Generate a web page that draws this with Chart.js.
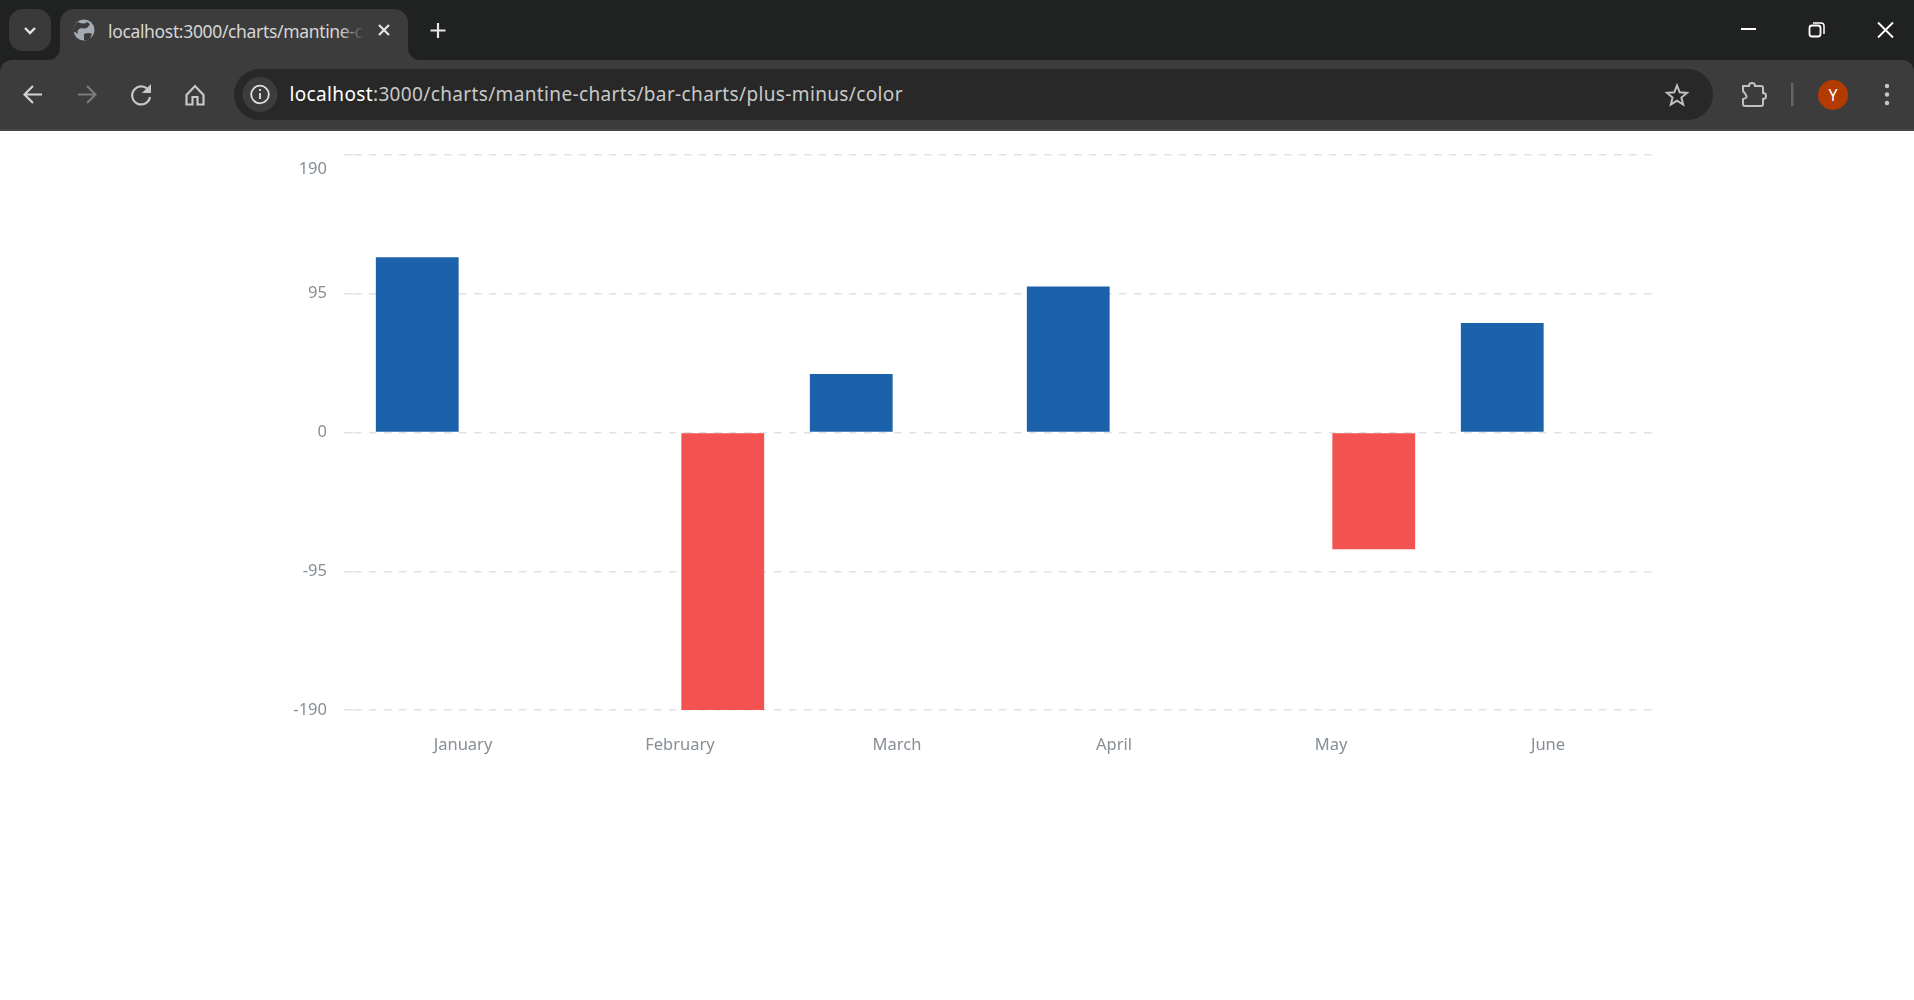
<!DOCTYPE html>
<html>
<head>
<meta charset="utf-8">
<title>plus-minus color</title>
<script src="https://cdn.jsdelivr.net/npm/chart.js@4"></script>
<style>
  html, body { margin: 0; padding: 0; background: #fff; overflow: hidden; }
  #browser { position: absolute; left: 0; top: 0; display: block; }
  #browser text { font-family: "Noto Sans", sans-serif; }
  #chart { position: absolute; left: 0; top: 131px; }
</style>
</head>
<body>
<!-- browser window chrome from the screenshot -->
<svg id="browser" width="1914" height="131" viewBox="0 0 1914 131" xmlns="http://www.w3.org/2000/svg">
  <defs>
    <linearGradient id="tabFade"><stop offset="0" stop-color="#3c3c3c" stop-opacity="0"/><stop offset="1" stop-color="#3c3c3c"/></linearGradient>
  </defs>
  <rect width="1914" height="131" fill="#202221"/>
  <path d="M0 131V72a12 12 0 0 1 12-12H1902a12 12 0 0 1 12 12V131Z" fill="#3c3c3c"/>
  <rect y="129" width="1914" height="2" fill="#474747"/>
  <rect x="9" y="9" width="42" height="42" rx="14" fill="#3a3a3a"/>
  <path d="M25 28l5 5 5-5" fill="none" stroke="#e3e3e3" stroke-width="2.4"/>
  <path d="M48 60a12 12 0 0 0 12-12V23a14 14 0 0 1 14-14H394a14 14 0 0 1 14 14V48a12 12 0 0 0 12 12Z" fill="#3c3c3c"/>
  <circle cx="84" cy="30" r="10.5" fill="#a5abb2"/>
  <path d="M78 22q6 3 9 0l3 2q-3 6-8 4q-6 1-4 6l-5-3Q74 24 78 22ZM84 34q5-2 8 0l-2 5q-4 2-6 1Z" fill="#3c3c3c"/>
  <text x="108" y="38" font-size="17.5" fill="#d6d6d6" textLength="255" lengthAdjust="spacing">localhost:3000/charts/mantine-c</text>
  <rect x="340" y="15" width="24" height="30" fill="url(#tabFade)"/>
  <path d="M379 25l10 10M389 25l-10 10" stroke="#e6e6e6" stroke-width="2.2"/>
  <path d="M438 23v15M430.5 30.5h15" stroke="#e6e6e6" stroke-width="2.2"/>
  <path d="M1741 29h15" stroke="#fff" stroke-width="2"/>
  <rect x="1809.5" y="25.5" width="11" height="11" rx="2.5" fill="none" stroke="#fff" stroke-width="1.8"/>
  <path d="M1813 23h8a3 3 0 0 1 3 3v8" fill="none" stroke="#fff" stroke-width="1.5"/>
  <path d="M1878 22.5l15 15M1893 22.5l-15 15" stroke="#fff" stroke-width="1.8"/>
  <path d="M42 94.5H25M33 86l-8.5 8.5L33 103" fill="none" stroke="#d2d2d2" stroke-width="2.2"/>
  <path d="M78 94.5H95M87 86l8.500 8.500L87 103" fill="none" stroke="#7a7a7a" stroke-width="2.2"/>
  <path d="M149 91a9 9 0 1 0 1 6" fill="none" stroke="#c8c8c8" stroke-width="2.2"/>
  <path d="M151 84v9h-9Z" fill="#c8c8c8"/>
  <path d="M186.5 95L195 86l8.5 9v9.5h-6V97h-5v7.500h-6Z" fill="none" stroke="#c8c8c8" stroke-width="2.2"/>
  <rect x="234" y="69" width="1479" height="51" rx="25.5" fill="#282828"/>
  <circle cx="260" cy="94.5" r="17.5" fill="#3c3c3c"/>
  <circle cx="260" cy="94.5" r="8.8" fill="none" stroke="#e0e0e0" stroke-width="1.8"/>
  <path d="M260 93v6M260 89v2" stroke="#e0e0e0" stroke-width="1.8"/>
  <text x="289.5" y="101" font-size="19" fill="#c8c8c8" textLength="613" lengthAdjust="spacing"><tspan fill="#ffffff">localhost</tspan>:3000/charts/mantine-charts/bar-charts/plus-minus/color</text>
  <path d="M1677 85.500l2.700 6.800 7.300 .6-5.600 4.600 1.800 7.100-6.200-3.900-6.200 3.900 1.800-7.100-5.600-4.600 7.300-.6Z" fill="none" stroke="#c0c0c0" stroke-width="2"/>
  <path d="M1743 86h6a3 3 0 0 1 6 0h6q2 0 2 2v5a3 3 0 0 1 0 6v5q0 2-2 2h-16q-2 0-2-2v-5q5-1 3-4t-3-4v-3q0-2 0-2Z" fill="none" stroke="#c0c0c0" stroke-width="2"/>
  <rect x="1791" y="83" width="2.4" height="23" fill="#666"/>
  <circle cx="1833" cy="95" r="15" fill="#b33a00"/>
  <text x="1833" y="101" font-size="16" fill="#fff" text-anchor="middle">Y</text>
  <circle cx="1887" cy="86" r="2.2" fill="#c8c8c8"/>
  <circle cx="1887" cy="94.5" r="2.2" fill="#c8c8c8"/>
  <circle cx="1887" cy="103" r="2.2" fill="#c8c8c8"/>
</svg>
<canvas id="chart" width="1914" height="869"></canvas>
<script>
// Chart data
const months = ["January", "February", "March", "April", "May", "June"];
const plusValues = [120, null, 40, 100, null, 75];
const minusValues = [null, -190, null, null, -80, null];
const yTicks = [-190, -95, 0, 95, 190];

const labelFont = '"Noto Sans", sans-serif';
const labelColor = "#868e96";
const gridColor = "#dee2e6";

new Chart(document.getElementById("chart"), {
  type: "bar",
  data: {
    labels: months,
    datasets: [
      { data: plusValues, backgroundColor: "#1c62aa" },
      { data: minusValues, backgroundColor: "#f25250" },
    ],
  },
  options: {
    responsive: false,
    animation: false,
    categoryPercentage: 0.8157,
    barPercentage: 0.9356,
    layout: { padding: { top: 24, right: 259, bottom: 0, left: 0 } },
    plugins: { legend: { display: false }, tooltip: { enabled: false } },
    scales: {
      x: {
        grid: { display: false },
        border: { display: false },
        afterFit: (scale) => { scale.height = 290; },
        ticks: {
          color: labelColor,
          font: { family: labelFont, size: 16.5 },
          padding: 17,
          labelOffset: 1.5,
          autoSkip: false,
          maxRotation: 0,
        },
      },
      y: {
        min: -190,
        max: 190,
        afterFit: (scale) => {
          scale.width = 353;
          // no extra room for the label overhang
          scale.paddingTop = 0;
          scale.paddingBottom = 0;
        },
        afterBuildTicks: (scale) => { scale.ticks = yTicks.map((value) => ({ value })); },
        border: { display: false, dash: [7.5, 7.5], dashOffset: -1 },
        grid: {
          color: gridColor,
          lineWidth: 1.5,
          tickColor: gridColor,
          tickWidth: 1.5,
          tickLength: 9,
        },
        ticks: {
          color: labelColor,
          padding: 17,
          // the top label sits below its line, so it gets an empty first row
          font: (ctx) => ({
            family: labelFont,
            size: 16.5,
            lineHeight: ctx.tick && ctx.tick.value === 190 ? "28px" : 1.2,
          }),
          callback: (value) => (value === 190 ? ["", String(value)] : String(value)),
        },
      },
    },
  },
});
</script>
</body>
</html>
